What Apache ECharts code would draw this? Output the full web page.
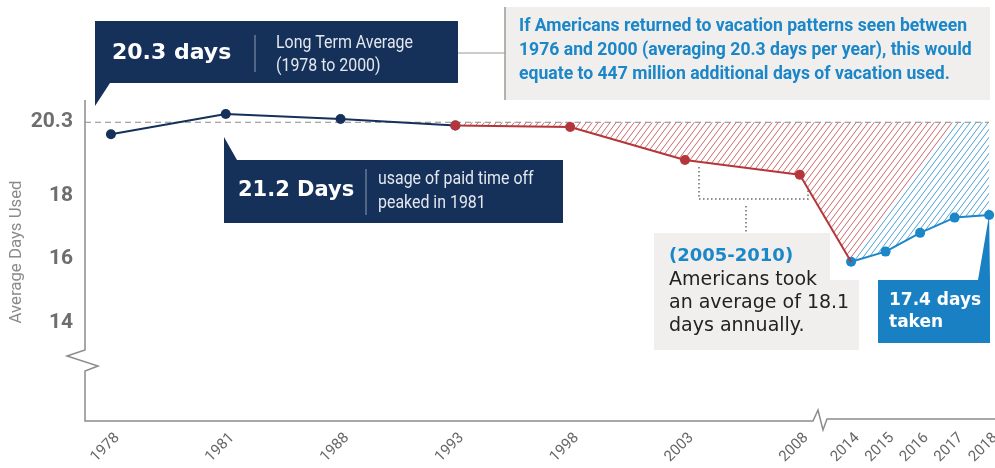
<!DOCTYPE html>
<html>
<head>
<meta charset="utf-8">
<script src="https://cdn.jsdelivr.net/npm/echarts@6/dist/echarts.min.js"></script>
<style>
html,body{margin:0;padding:0;background:#fff;}
#chart{width:995px;height:468px;}
</style>
</head>
<body>
<div id="chart"></div>
<script>
// ---- data ----
const yearsEarly = ['1978','1981','1988','1993','1998','2003','2008'];
const yearsRecent = ['2014','2015','2016','2017','2018'];
const daysEarly = [19.92, 20.56, 20.40, 20.20, 20.15, 19.11, 18.65];
const daysRecent = [15.91, 16.23, 16.82, 17.30, 17.38];
const yTickValues = [14, 16, 18, 20.3];
const longTermAverage = 20.3;
const declineStartIndex = 3; // 1993 onward drawn in red

// ---- styles ----
const NAVY = '#15315a', RED = '#b4363a', BLUE = '#1b86c8';
const WIDE = '"DejaVu Sans", sans-serif';

const chart = echarts.init(document.getElementById('chart'));

const mctx = document.createElement('canvas').getContext('2d');
function widthOf(text, font) { mctx.font = font; return mctx.measureText(text).width; }

function hatch(color) {
  const c = document.createElement('canvas');
  c.width = 6; c.height = 8;
  const g = c.getContext('2d');
  g.strokeStyle = color; g.lineWidth = 1;
  [-6, 0, 6].forEach(o => { g.beginPath(); g.moveTo(o, 8); g.lineTo(o + 6, 0); g.stroke(); });
  return c;
}

const Y_MIN = 10.9, Y_MAX = 21.0;
const idx = a => a.map((v, i) => [i, v]);
const xLabel = { rotate: 45, align: 'center', verticalAlign: 'middle', margin: 21, padding: [0, 16, 0, 0],
  color: '#666', fontSize: 15, fontFamily: 'Roboto' };

const option = {
  animation: false,
  backgroundColor: '#fff',
  grid: [
    { left: 85, top: 100, width: 735, height: 321, outerBoundsMode: 'none', containLabel: false },
    { left: 820, top: 100, width: 175, height: 321, outerBoundsMode: 'none', containLabel: false }
  ],
  xAxis: [
    { type: 'value', gridIndex: 0, min: -0.226, max: 6.176,
      axisLine: { show: false }, axisTick: { show: false }, splitLine: { show: false },
      axisLabel: Object.assign({ customValues: yearsEarly.map((_, i) => i), formatter: v => yearsEarly[Math.round(v)] }, xLabel) },
    { type: 'value', gridIndex: 1, min: -0.9, max: 4.17,
      axisLine: { show: false }, axisTick: { show: false }, splitLine: { show: false },
      axisLabel: Object.assign({ customValues: yearsRecent.map((_, i) => i), formatter: v => yearsRecent[Math.round(v)] }, xLabel) }
  ],
  yAxis: [
    { type: 'value', gridIndex: 0, min: Y_MIN, max: Y_MAX,
      axisLine: { show: false }, axisTick: { show: false }, splitLine: { show: false },
      axisLabel: { customValues: yTickValues, formatter: v => String(v), margin: 12,
        color: '#6e6e6e', fontSize: 21, fontWeight: 'bold', fontFamily: 'Roboto' } },
    { type: 'value', gridIndex: 1, min: Y_MIN, max: Y_MAX, show: false }
  ],
  series: [
    { type: 'line', xAxisIndex: 0, yAxisIndex: 0, z: 4,
      data: idx(daysEarly).slice(0, declineStartIndex + 1),
      symbol: 'circle', symbolSize: 10, lineStyle: { color: NAVY, width: 2 }, itemStyle: { color: NAVY } },
    { type: 'line', xAxisIndex: 0, yAxisIndex: 0, z: 5,
      data: idx(daysEarly).slice(declineStartIndex),
      symbol: 'circle', symbolSize: 10, lineStyle: { color: RED, width: 2 }, itemStyle: { color: RED } },
    { type: 'line', xAxisIndex: 1, yAxisIndex: 1, z: 5,
      data: idx(daysRecent),
      symbol: 'circle', symbolSize: 10, lineStyle: { color: BLUE, width: 2 }, itemStyle: { color: BLUE } }
  ]
};
chart.setOption(option);

// ---- cross-grid shapes via library conversions ----
const pE = i => chart.convertToPixel({ xAxisIndex: 0, yAxisIndex: 0 }, [i, daysEarly[i]]);
const pR = i => chart.convertToPixel({ xAxisIndex: 1, yAxisIndex: 1 }, [i, daysRecent[i]]);
const yAvg = chart.convertToPixel({ yAxisIndex: 0 }, longTermAverage);
const first = pR(0);
const last = pR(daysRecent.length - 1);
const topX = first[0] + (first[1] - yAvg) * 0.75;

const redPts = [[pE(declineStartIndex)[0], yAvg]];
for (let i = declineStartIndex; i < daysEarly.length; i++) redPts.push(pE(i));
redPts.push(first, [topX, yAvg]);
const bluePts = [];
for (let i = 0; i < daysRecent.length; i++) bluePts.push(pR(i));
bluePts.push([last[0], yAvg], [topX, yAvg]);

const txt = (x, y, text, font, fill, sx) => ({ type: 'text', z: 20, x, y, scaleX: sx || 1,
  style: { x: 0, y: 0, text, font, fill, verticalAlign: 'middle' } });

const NOTE_FONT = 'bold 19px Roboto';
const noteScale = 448 / widthOf('If Americans returned to vacation patterns seen between', NOTE_FONT);
const BOX_FONT = '18px Roboto';
const boxScale = 137 / widthOf('Long Term Average', BOX_FONT);
const AXIS_NAME = 'Average Days Used';
const AXIS_NAME_FONT = '17px Roboto';
const axisNameScale = 143 / widthOf(AXIS_NAME, AXIS_NAME_FONT);

const graphics = [
  { type: 'polygon', z: 1, shape: { points: redPts }, style: { fill: { image: hatch('rgba(196,80,82,0.85)'), repeat: 'repeat' }, stroke: null } },
  { type: 'polygon', z: 1, shape: { points: bluePts }, style: { fill: { image: hatch('rgba(48,146,208,0.85)'), repeat: 'repeat' }, stroke: null } },
  { type: 'line', z: 2, shape: { x1: 85, y1: yAvg, x2: last[0], y2: yAvg }, style: { stroke: '#8a8a8a', lineWidth: 1.2, lineDash: [6, 4] } },
  { type: 'line', z: 12, shape: { x1: pE(daysEarly.length - 1)[0], y1: pE(daysEarly.length - 1)[1], x2: first[0], y2: first[1] }, style: { stroke: RED, lineWidth: 2 } },
  // axes with breaks
  { type: 'polyline', z: 2, shape: { points: [[85, 100], [85, 350], [67, 356], [98, 366], [85, 371], [85, 421], [813, 421], [818, 410], [823, 430], [827, 419], [995, 419]] },
    style: { stroke: '#8c8c8c', lineWidth: 1.5, fill: null } },
  // y-axis title
  { type: 'text', z: 20, x: 17, y: 252, rotation: Math.PI / 2, scaleX: axisNameScale,
    style: { x: 0, y: 0, text: AXIS_NAME, font: AXIS_NAME_FONT, fill: '#8a8a8a', align: 'center', verticalAlign: 'middle' } },

  // top-left navy callout
  { type: 'polygon', z: 10, shape: { points: [[95, 21], [458, 21], [458, 83], [110, 83], [95, 106], [95, 83]] }, style: { fill: NAVY } },
  txt(112, 53, '20.3 days', 'bold 22px ' + WIDE, '#fff'),
  { type: 'line', z: 20, shape: { x1: 255, y1: 35, x2: 255, y2: 72 }, style: { stroke: '#8e9bb0', lineWidth: 1 } },
  txt(276, 43, 'Long Term Average', BOX_FONT, '#e3e7ee', boxScale),
  txt(276, 66, '(1978 to 2000)', BOX_FONT, '#e3e7ee', boxScale),
  { type: 'line', z: 9, shape: { x1: 458, y1: 53, x2: 505, y2: 53 }, style: { stroke: '#9a9a9a', lineWidth: 1.2 } },

  // top-right note
  { type: 'rect', z: 10, shape: { x: 505, y: 7, width: 485, height: 93 }, style: { fill: '#f0efee' } },
  { type: 'line', z: 11, shape: { x1: 505, y1: 7, x2: 505, y2: 100 }, style: { stroke: '#9a9a9a', lineWidth: 1.5 } },
  txt(519, 26, 'If Americans returned to vacation patterns seen between', NOTE_FONT, BLUE, noteScale),
  txt(519, 50, '1976 and 2000 (averaging 20.3 days per year), this would', NOTE_FONT, BLUE, noteScale),
  txt(519, 74, 'equate to 447 million additional days of vacation used.', NOTE_FONT, BLUE, noteScale),

  // 1981 peak callout
  { type: 'polygon', z: 10, shape: { points: [[224, 137], [237, 160], [563, 160], [563, 223], [224, 223]] }, style: { fill: NAVY } },
  txt(238, 191, '21.2 Days', 'bold 21px ' + WIDE, '#fff'),
  { type: 'line', z: 20, shape: { x1: 366, y1: 169, x2: 366, y2: 215 }, style: { stroke: '#8e9bb0', lineWidth: 1 } },
  txt(378, 179, 'usage of paid time off', BOX_FONT, '#e3e7ee', boxScale),
  txt(378, 203, 'peaked in 1981', BOX_FONT, '#e3e7ee', boxScale),

  // dotted bracket
  { type: 'polyline', z: 6, shape: { points: [[699, 167], [699, 199], [808, 199], [808, 190]] }, style: { stroke: '#6a6a6a', lineWidth: 1.5, lineDash: [1.5, 2.5], fill: null } },
  { type: 'line', z: 6, shape: { x1: 746, y1: 206, x2: 746, y2: 233 }, style: { stroke: '#6a6a6a', lineWidth: 1.5, lineDash: [1.5, 2.5] } },

  // 2005-2010 note
  { type: 'polygon', z: 10, shape: { points: [[654, 233], [830, 233], [830, 280], [859, 280], [859, 350], [654, 350]] }, style: { fill: '#f0efee' } },
  txt(669, 256, '(2005-2010)', 'bold 18px ' + WIDE, BLUE),
  txt(669, 280, 'Americans took', '19px ' + WIDE, '#222'),
  txt(669, 303, 'an average of 18.1', '19px ' + WIDE, '#222'),
  txt(669, 326, 'days annually.', '19px ' + WIDE, '#222'),

  // 17.4 days callout
  { type: 'polygon', z: 10, shape: { points: [[878, 280], [978, 280], [last[0], last[1]], [990, 280], [990, 343], [878, 343]] }, style: { fill: '#1a80c4' } },
  txt(889, 301, '17.4 days', 'bold 17px ' + WIDE, '#fff'),
  txt(889, 323, 'taken', 'bold 17px ' + WIDE, '#fff')
];
chart.setOption({ graphic: { elements: graphics } });
</script>
</body>
</html>
